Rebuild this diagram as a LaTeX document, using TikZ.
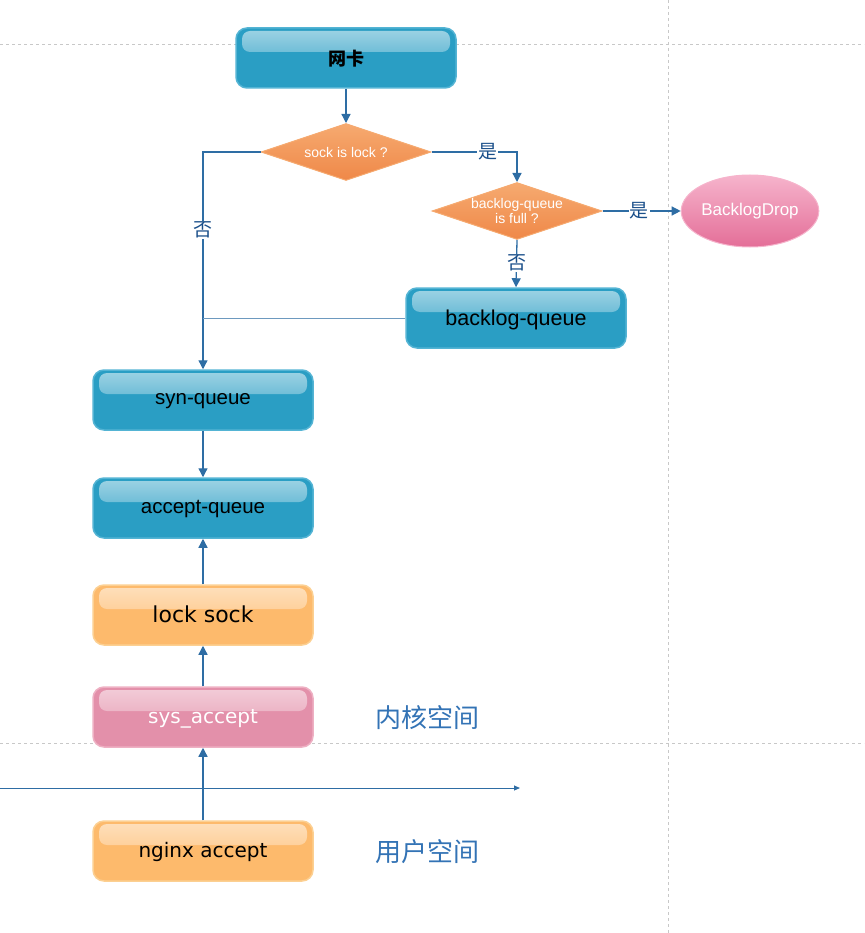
\documentclass[tikz,border=0pt]{standalone}
\usepackage{fontspec}
\setmainfont{Liberation Sans}
\newfontfamily\cjk{Noto Sans CJK SC}
\newfontfamily\lucida{DejaVu Sans}
\usetikzlibrary{shapes.geometric,arrows.meta}
\definecolor{tealbase}{RGB}{42,158,196}
\definecolor{tealedge}{RGB}{84,180,212}
\definecolor{orangebase}{RGB}{253,186,108}
\definecolor{orangeedge}{RGB}{252,208,146}
\definecolor{pinkbase}{RGB}{227,144,170}
\definecolor{pinkedge}{RGB}{238,176,195}
\definecolor{diamtop}{RGB}{246,170,112}
\definecolor{diambase}{RGB}{239,136,72}
\definecolor{droptop}{RGB}{246,180,204}
\definecolor{dropbase}{RGB}{228,110,152}
\definecolor{flowblue}{RGB}{46,109,164}
\definecolor{labelblue}{RGB}{26,79,138}
\definecolor{areablue}{RGB}{51,115,181}
\definecolor{gridgray}{RGB}{200,200,200}
\newcommand{\setsize}[1]{\fontsize{#1}{#1}\selectfont}
\tikzset{
  glossbox/.style={rectangle, rounded corners=11pt, minimum width=220pt, minimum height=60pt,
    line width=1.5pt, fill=#1, text depth=0.25ex,
    path picture={\shade[top color=#1!45!white, bottom color=#1, rounded corners=8pt]
    ([xshift=6pt,yshift=-3pt]path picture bounding box.north west) rectangle
    ([xshift=-6pt,yshift=6pt]path picture bounding box.east);}},
  queuebox/.style={glossbox=tealbase, draw=tealedge, text=black, font=\setsize{20.5}},
  userbox/.style={glossbox=orangebase, draw=orangeedge, text=black, font=\lucida\setsize{20}},
  sysbox/.style={glossbox=pinkbase, draw=pinkedge, text=white, font=\lucida\setsize{20}},
  check/.style={diamond, minimum width=170pt, minimum height=57pt, inner sep=0pt, aspect=3,
    draw=diamtop, line width=1pt, top color=diamtop, bottom color=diambase, text=white, font=\setsize{14}},
  dropnode/.style={ellipse, minimum width=135pt, minimum height=72pt, inner sep=0pt, draw=droptop, line width=1pt,
    top color=droptop, bottom color=dropbase, text=white, font=\setsize{17}},
  flow/.style={draw=flowblue, line width=1.3pt, -{Triangle[length=9pt,width=9pt]}},
  answer/.style={fill=white, inner sep=1pt, text=labelblue, font=\cjk\setsize{19}},
  area/.style={text=areablue, font=\cjk\setsize{26}},
  grid line/.style={draw=gridgray, dashed, line width=0.6pt}
}
\begin{document}
\begin{tikzpicture}[x=1pt,y=1pt]
    \useasboundingbox (0,0) rectangle (864,-933);

    % page guides
    \draw [grid line] (0,-44) -- (864,-44);
    \draw [grid line] (0,-743) -- (864,-743);
    \draw [grid line] (668,0) -- (668,-933);

    % kernel receive path
    \node [queuebox, font=\cjk\bfseries\setsize{18}] (nic) at (346,-58) {网卡};
    \node [check] (locked) at (346,-152) {sock is lock ?};
    \node [check, label={[text=white, align=center, font=\setsize{14}, inner sep=0pt]center:backlog-queue\\[1pt]is full ?}] (full) at (517,-211) {};
    \node [dropnode] (drop) at (750,-211) {BacklogDrop};
    \node [queuebox, font=\setsize{21.5}] (backlog) at (516,-318) {backlog-queue};
    \node [queuebox] (syn) at (203,-400) {syn-queue};
    \node [queuebox] (accept) at (203,-508) {accept-queue};

    % accept side
    \node [userbox, font=\lucida\setsize{22}] (lock) at (203,-615) {lock sock};
    \node [sysbox] (sys) at (203,-717) {sys\_accept};
    \node [userbox] (nginx) at (203,-851) {nginx accept};

    \node [area] (kernel) at (427,-718) {内核空间};
    \node [area] (user) at (427,-852) {用户空间};

    % boundary arrow
    \coordinate (edgeL) at (0,-788);
    \coordinate (edgeR) at (520,-788);
    \draw [draw=flowblue, line width=1pt, -{Triangle[length=6pt,width=5pt]}] (edgeL) -- (edgeR);

    % connectors
    \draw [flow] (nic) -- (locked);
    \draw [flow] (locked.west) -| node [answer, pos=0.68] {否} (syn.north);
    \draw [flow] (locked.east) -| node [answer, pos=0.33] {是} (full.north);
    \draw [flow] (full.east) -- node [answer, pos=0.47] {是} (drop.west);
    \draw [flow] (full.south) -- node [answer, pos=0.49] {否} (backlog.north);
    \draw [draw=flowblue!70, line width=1pt] (backlog.west) -- (backlog.west -| syn.north);
    \draw [flow] (syn) -- (accept);
    \draw [flow] (lock) -- (accept);
    \draw [flow] (sys) -- (lock);
    \draw [flow] (nginx) -- (sys);
\end{tikzpicture}
\end{document}
